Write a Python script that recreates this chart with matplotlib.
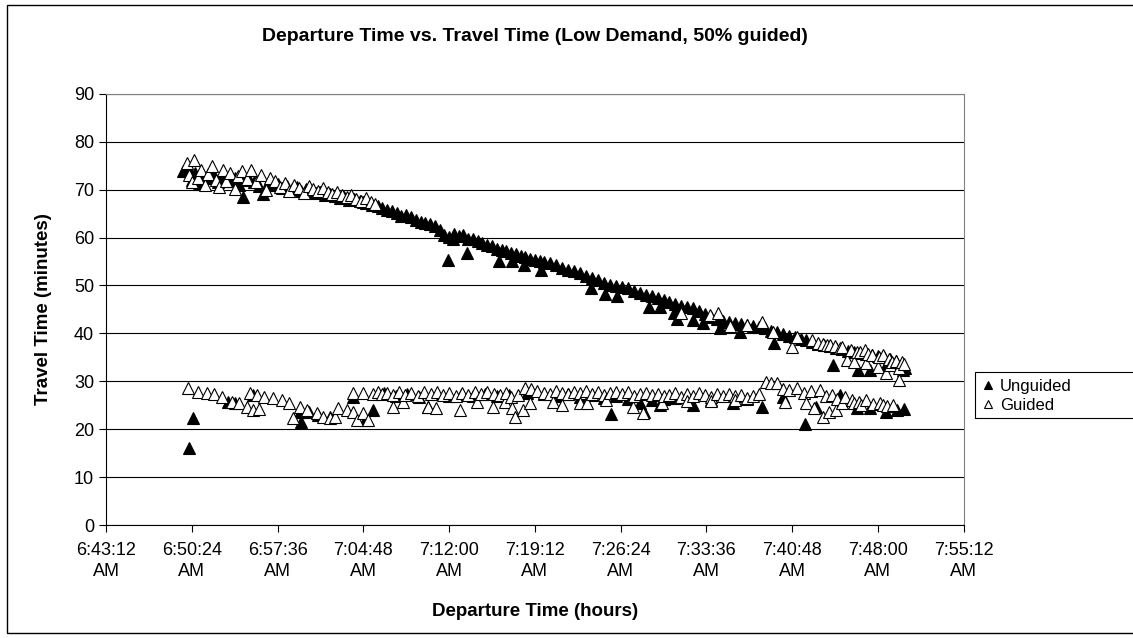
import matplotlib
matplotlib.use('Agg')
import matplotlib.pyplot as plt
from matplotlib.patches import Rectangle

plt.rcParams['font.family'] = ['Liberation Sans', 'DejaVu Sans']

# departure time in minutes after 6:00 AM, travel time in minutes
# unguided vehicles - upper band
ung_up_t = [49.7, 50.1, 50.4, 50.7, 51.0, 51.3, 51.6, 52.0, 52.3, 52.6, 53.0, 53.3, 53.7, 54.0, 54.4,
            54.7, 54.8, 55.2, 55.6, 56.0, 56.4, 56.8, 57.2, 57.6, 58.0, 58.4, 58.8, 59.2, 59.6, 60.0,
            60.4, 60.8, 61.2, 61.6, 62.0, 62.4, 62.8, 63.2, 63.6, 64.0, 64.5, 64.8, 65.0, 65.5, 66.0,
            66.4, 66.8, 67.2, 67.6, 68.0, 68.4, 68.8, 69.2, 69.6, 70.0, 70.4, 70.8, 71.2, 71.6, 71.9,
            72.0, 72.3, 72.4, 72.8, 73.2, 73.5, 73.6, 74.0, 74.4, 74.8, 75.2, 75.6, 76.0, 76.2, 76.4,
            76.8, 77.2, 77.3, 77.6, 78.0, 78.3, 78.4, 78.8, 79.2, 79.6, 79.7, 80.0, 80.5, 81.0, 81.5,
            82.0, 82.5, 83.0, 83.5, 83.9, 84.0, 84.5, 85.0, 85.1, 85.5, 86.0, 86.1, 86.5, 87.0, 87.5,
            88.0, 88.5, 88.8, 89.0, 89.5, 89.7, 90.0, 90.5, 90.9, 91.0, 91.1, 91.5, 92.0, 92.5, 92.5,
            93.0, 93.3, 93.5, 94.0, 94.5, 94.7, 95.0, 95.5, 96.0, 96.4, 96.5, 97.0, 97.5, 98.0, 98.5,
            99.0, 99.3, 99.5, 100.0, 100.5, 101.0, 101.5, 102.0, 102.5, 103.0, 103.5, 104.0, 104.2, 104.5,
            105.0, 105.5, 106.0, 106.3, 106.5, 107.0, 107.3, 107.5, 108.0, 108.5, 108.7, 109.0, 109.5, 110.0,
            110.1, 110.3]
ung_up_v = [73.8, 74.5, 72.0, 73.5, 71.2, 73.0, 72.4, 74.2, 72.8, 71.5, 73.0, 72.4, 71.8, 72.5, 71.0,
            68.5, 72.0, 72.3, 71.6, 70.8, 69.0, 71.4, 70.9, 71.2, 70.4, 70.8, 70.2, 70.5, 69.8, 70.1,
            69.6, 69.2, 69.5, 68.9, 69.0, 68.6, 68.2, 68.4, 67.8, 68.0, 67.6, 67.4, 67.2, 66.8, 66.6,
            66.2, 65.8, 65.6, 65.2, 64.6, 64.8, 64.2, 63.6, 63.2, 63.0, 62.8, 62.4, 61.6, 60.6, 55.3,
            60.2, 59.8, 60.8, 60.4, 60.6, 56.8, 59.8, 59.6, 59.2, 58.8, 58.4, 58.2, 57.6, 55.1, 57.4,
            57.2, 56.8, 55.1, 56.6, 56.2, 54.3, 56.0, 55.6, 55.4, 55.2, 53.2, 54.8, 54.6, 54.2, 53.6,
            53.2, 53.0, 52.6, 52.0, 49.5, 51.6, 51.2, 50.6, 48.2, 50.2, 49.9, 47.8, 49.6, 49.4, 48.8,
            48.4, 48.0, 45.5, 47.8, 47.4, 45.5, 47.0, 46.6, 44.3, 46.2, 43.0, 45.8, 45.6, 45.2, 42.8,
            44.6, 42.2, 44.0, 43.4, 43.0, 41.1, 42.6, 42.4, 42.2, 40.3, 42.0, 41.8, 41.6, 41.4, 41.2,
            40.6, 38.0, 40.2, 39.8, 39.4, 39.2, 38.8, 38.6, 38.2, 37.8, 37.6, 37.4, 33.4, 37.0,
            36.8, 36.4, 36.2, 32.4, 36.0, 35.8, 32.4, 35.4, 35.2, 35.0, 33.4, 34.6, 34.2, 33.6,
            32.4, 32.8]

# unguided vehicles - lower band
ung_lo_t = [50.2, 50.5, 53.4, 54.0, 55.5, 59.5, 59.6, 60.2, 61.0, 62.0, 63.9, 64.9, 65.6, 66.5, 67.5,
            68.5, 69.5, 70.2, 71.0, 72.0, 73.0, 74.0, 75.0, 76.0, 77.0, 78.5, 80.0, 81.0, 82.0, 83.0,
            84.0, 85.0, 85.6, 86.0, 87.0, 88.0, 88.4, 89.0, 89.7, 90.0, 91.0, 92.5, 94.0, 95.8, 97.0,
            98.3, 100.0, 101.9, 102.8, 104.8, 106.2, 107.3, 108.7, 109.6, 110.2]
ung_lo_v = [16.1, 22.3, 25.7, 25.5, 27.1, 23.6, 21.5, 23.6, 23.0, 22.5, 26.7, 21.9, 24.0, 27.5, 27.0,
            27.3, 26.8, 24.6, 27.4, 27.0, 27.2, 26.9, 27.3, 27.0, 27.2, 27.6, 27.4, 27.0, 27.3, 26.8,
            27.2, 26.6, 23.2, 27.0, 26.4, 25.5, 23.6, 26.0, 25.0, 26.3, 26.6, 25.0, 26.2, 25.5, 26.4,
            24.6, 26.8, 21.1, 24.6, 27.1, 24.4, 24.4, 23.6, 24.0, 24.2]

# guided vehicles - upper band
gd_up_t = [50.0, 50.2, 50.4, 50.6, 50.9, 51.2, 51.5, 51.8, 52.1, 52.4, 52.7, 53.0, 53.3, 53.6, 54.0,
           54.3, 54.6, 55.0, 55.4, 55.8, 56.2, 56.6, 57.0, 57.4, 57.8, 58.2, 58.6, 59.0, 59.4, 59.8,
           60.2, 60.6, 61.0, 61.4, 61.8, 62.2, 62.6, 63.0, 63.4, 63.8, 64.2, 64.6, 65.0, 65.4, 65.8,
           91.5, 93.9, 94.6, 95.6, 97.0, 98.3, 99.2, 100.8, 101.2, 102.5, 103.0, 103.4, 103.7, 104.0, 104.4,
           104.8, 105.0, 105.4, 105.7, 106.0, 106.2, 106.5, 106.9, 107.0, 107.2, 107.5, 108.0, 108.1, 108.4,
           108.7, 108.9, 109.0, 109.2, 109.5, 109.8, 109.8, 110.0, 110.2]
gd_up_v = [75.5, 73.0, 71.5, 76.2, 72.5, 74.0, 71.0, 73.2, 75.0, 72.0, 70.5, 74.2, 71.8, 73.5, 70.2,
           72.8, 73.9, 72.2, 74.0, 71.5, 73.0, 70.0, 72.4, 71.8, 70.5, 71.4, 69.8, 71.0, 70.4, 69.4,
           70.8, 70.2, 69.8, 70.3, 69.5, 69.0, 69.6, 68.8, 68.4, 68.9, 68.0, 67.6, 68.2, 67.4, 67.0,
           44.2, 43.8, 44.3, 41.5, 41.8, 42.4, 40.3, 37.2, 39.2, 38.6, 38.0, 37.8, 37.6, 37.5, 37.4,
           37.0, 37.2, 34.4, 36.6, 34.0, 36.1, 36.2, 36.5, 33.8, 35.8, 35.5, 33.0, 35.1, 35.5,
           31.7, 34.6, 33.4, 34.0, 34.3, 32.8, 30.3, 34.0, 33.6]

# guided vehicles - lower band
gd_lo_t = [50.1, 50.9, 51.7, 52.3, 52.9, 53.8, 54.4, 55.0, 55.3, 55.5, 55.9, 56.0, 56.5, 57.2, 58.0,
           58.6, 58.9, 59.5, 60.1, 60.9, 61.4, 62.0, 62.4, 62.7, 63.4, 63.9, 63.9, 64.3, 64.8, 64.8,
           65.2, 65.6, 66.0, 66.4, 66.8, 67.3, 67.3, 67.8, 68.1, 68.3, 68.8, 69.4, 69.9, 70.2, 70.5,
           70.9, 71.0, 71.5, 72.0, 72.6, 72.9, 73.1, 73.6, 74.2, 74.3, 74.7, 75.2, 75.7, 75.8, 76.3,
           76.7, 76.8, 77.2, 77.3, 77.5, 77.8, 78.2, 78.4, 78.8, 78.9, 79.4, 80.0, 80.5, 80.7, 81.0,
           81.5, 81.5, 82.0, 82.5, 83.0, 83.0, 83.5, 83.6, 84.0, 84.5, 85.0, 85.2, 85.5, 86.0, 86.5,
           87.0, 87.4, 87.5, 88.0, 88.3, 88.5, 89.0, 89.5, 89.9, 90.0, 90.5, 91.0, 91.5, 92.0, 92.0,
           92.5, 93.0, 93.5, 94.0, 94.0, 94.5, 95.0, 95.5, 96.0, 96.0, 96.5, 97.0, 97.5, 98.0, 98.6,
           99.0, 99.5, 100.0, 100.2, 100.5, 101.2, 101.8, 102.0, 102.4, 102.6, 103.1, 103.4, 103.6, 103.9,
           104.1, 104.5, 104.6, 105.0, 105.2, 105.8, 106.0, 106.4, 106.6, 107.0, 107.6, 108.2, 108.4,
           108.8, 109.3]
gd_lo_v = [28.6, 27.8, 27.6, 27.3, 26.7, 25.7, 25.5, 24.6, 27.6, 24.0, 27.1, 24.2, 26.7, 26.5, 26.1,
           25.5, 22.3, 24.6, 24.0, 23.4, 22.5, 22.3, 22.5, 24.4, 24.0, 23.6, 27.6, 21.9, 23.4, 27.6,
           21.9, 27.3, 27.8, 27.3, 27.5, 27.1, 24.6, 27.8, 25.7, 27.2, 27.6, 27.0, 27.7, 24.6, 27.3,
           24.4, 27.8, 27.1, 27.6, 27.0, 24.0, 27.5, 27.2, 27.7, 25.7, 27.3, 27.8, 24.6, 27.4, 27.1,
           25.7, 27.6, 26.8, 24.4, 22.5, 27.2, 24.0, 28.6, 25.5, 28.3, 28.0, 27.6, 27.4, 25.7, 27.9,
           27.6, 25.1, 27.3, 27.8, 27.5, 25.5, 27.9, 25.5, 27.4, 27.8, 27.2, 26.1, 27.6, 27.8, 27.4,
           27.7, 24.6, 27.0, 27.3, 23.4, 27.6, 27.1, 27.4, 25.5, 26.9, 27.2, 27.5, 26.8, 27.3, 25.8,
           27.0, 27.6, 27.2, 26.8, 25.9, 27.3, 27.0, 27.4, 26.9, 26.0, 27.2, 26.6, 27.0, 27.3, 29.9,
           29.7, 29.6, 28.4, 25.7, 28.1, 28.6, 27.6, 25.5, 27.9, 24.5, 28.2, 22.5, 27.0, 23.6,
           27.1, 24.0, 26.4, 25.5, 26.8, 26.0, 25.5, 25.6, 25.1, 26.2, 25.2, 25.4, 25.1,
           24.8, 25.0]

unguided_t = ung_up_t + ung_lo_t
unguided_v = ung_up_v + ung_lo_v
guided_t = gd_up_t + gd_lo_t
guided_v = gd_up_v + gd_lo_v

x_ticks = [43.2, 50.4, 57.6, 64.8, 72.0, 79.2, 86.4, 93.6, 100.8, 108.0, 115.2]


def time_label(m):
    secs = int(round(6 * 3600 + m * 60))
    return '%d:%02d:%02d\nAM' % (secs // 3600, (secs % 3600) // 60, secs % 60)


fig = plt.figure(figsize=(11.33, 6.38), dpi=100)
ax = fig.add_axes([0.0936, 0.177, 0.757, 0.676])

ax.plot(unguided_t, unguided_v, linestyle='none', marker='^', ms=8,
        mfc='black', mec='black', mew=0.8, label='Unguided', zorder=3)
ax.plot(guided_t, guided_v, linestyle='none', marker='^', ms=8,
        mfc='white', mec='black', mew=0.8, label='Guided', zorder=4)

ax.set_xlim(43.2, 115.2)
ax.set_ylim(0, 90)
ax.set_xticks(x_ticks)
ax.set_xticklabels([time_label(m) for m in x_ticks], linespacing=1.35)
ax.set_yticks(range(0, 91, 10))
ax.tick_params(axis='both', labelsize=13, direction='out', length=5, width=0.8, color='black')
ax.tick_params(axis='x', pad=7)
ax.yaxis.grid(True, color='black', linewidth=0.8)
ax.set_axisbelow(True)
for s in ax.spines.values():
    s.set_linewidth(0.8)
    s.set_color('black')
ax.spines['top'].set_color('#808080')
ax.spines['right'].set_color('#808080')

ax.set_title('Departure Time vs. Travel Time (Low Demand, 50% guided)',
             fontsize=14, fontweight='bold', pad=38)
ax.set_xlabel('Departure Time (hours)', fontsize=13.5, fontweight='bold', labelpad=16)
ax.set_ylabel('Travel Time (minutes)', fontsize=13.5, fontweight='bold', labelpad=16)

leg = ax.legend(loc='upper left', bbox_to_anchor=(0.862, 0.414), bbox_transform=fig.transFigure,
                fontsize=12, frameon=False,
                handlelength=0.8, handletextpad=0.3, borderpad=0.3, labelspacing=0.25,
                markerscale=0.8, borderaxespad=0)

# legend box runs off the right edge, as in the original export
fig.patches.append(Rectangle((975 / 1133, 1 - 418 / 638), 0.2, 46 / 638, transform=fig.transFigure,
                             fill=False, edgecolor='black', linewidth=0.8))

# outer chart border
fig.patches.append(Rectangle((7 / 1133, 5 / 638), 1.2, 1 - 10 / 638, transform=fig.transFigure,
                             fill=False, edgecolor='black', linewidth=1.0))

plt.savefig('out.png', dpi=100)
